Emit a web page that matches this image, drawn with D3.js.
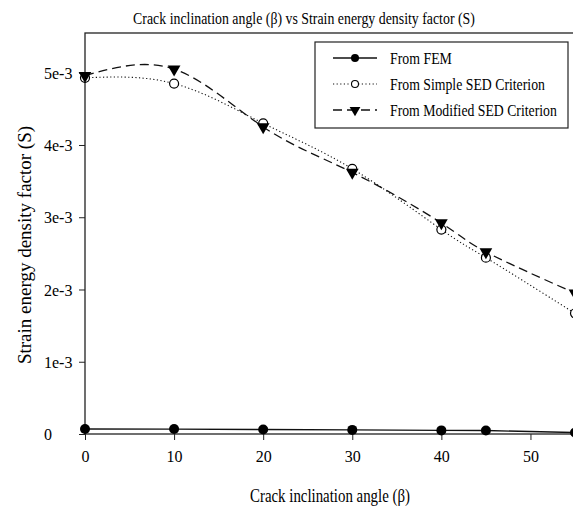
<!DOCTYPE html>
<html>
<head>
<meta charset="utf-8">
<script src="https://cdn.jsdelivr.net/npm/d3@7"></script>
<style>
  html, body { margin: 0; padding: 0; background: #fff; }
  svg { display: block; }
  text { font-family: "Liberation Serif", "Times New Roman", serif; fill: #000; }
</style>
</head>
<body>
<svg id="chart" width="573" height="510"></svg>
<script>
// Crack inclination angle (degrees)
const angles = [0, 10, 20, 30, 40, 45, 55];
// Strain energy density factor S for each method
const femValues      = [0.07e-3, 0.068e-3, 0.062e-3, 0.057e-3, 0.05e-3, 0.048e-3, 0.02e-3];
const simpleSedValues   = [4.93e-3, 4.85e-3, 4.30e-3, 3.67e-3, 2.83e-3, 2.44e-3, 1.67e-3];
const modifiedSedValues = [4.96e-3, 5.05e-3, 4.25e-3, 3.62e-3, 2.92e-3, 2.52e-3, 1.95e-3];

const xTicks = [0, 10, 20, 30, 40, 50];
const yTicks = [0, 1e-3, 2e-3, 3e-3, 4e-3, 5e-3];
const yTickLabels = ["0", "1e-3", "2e-3", "3e-3", "4e-3", "5e-3"];

const seriesNames = ["From FEM", "From Simple SED Criterion", "From Modified SED Criterion"];

const svg = d3.select("#chart");
const plotLeft = 85, plotRight = 575, plotTop = 33, plotBottom = 434;

const x = d3.scaleLinear().domain([0, 55]).range([plotLeft, plotRight]);
const y = d3.scaleLinear().domain([0, 5.55e-3]).range([plotBottom, plotTop]);

// Narrow serif text: place text at (tx, ty), rotated, squeezed horizontally to width w
function narrowText(parent, tx, ty, rot, size, anchor, str, w) {
  const g = parent.append("g").attr("transform", `translate(${tx},${ty}) rotate(${rot})`);
  const t = g.append("text")
    .attr("text-anchor", anchor)
    .style("font-size", size + "px")
    .text(str);
  const natural = t.node().getComputedTextLength();
  const k = Math.min(1, w / natural);
  t.attr("transform", `scale(${k},1)`);
  return t;
}

// Title
narrowText(svg, 304, 24, 0, 17, "middle",
  "Crack inclination angle (β) vs Strain energy density factor (S)", 342);

// Plot frame
svg.append("rect")
  .attr("x", plotLeft).attr("y", plotTop)
  .attr("width", plotRight - plotLeft).attr("height", plotBottom - plotTop)
  .attr("fill", "none").attr("stroke", "#222").attr("stroke-width", 1.3);

// X axis
const xAxis = svg.append("g")
  .attr("transform", `translate(0,${plotBottom})`)
  .call(d3.axisBottom(x).tickValues(xTicks).tickSize(6).tickPadding(11).tickFormat(d3.format("d")));
xAxis.select(".domain").remove();
xAxis.selectAll("line").attr("stroke", "#222");
xAxis.selectAll("text").style("font-size", "16px").style("font-family", "Liberation Serif, serif");

// Y axis
const yAxis = svg.append("g")
  .attr("transform", `translate(${plotLeft},0)`)
  .call(d3.axisLeft(y).tickValues(yTicks).tickSize(6).tickFormat((d, i) => yTickLabels[i]));
yAxis.select(".domain").remove();
yAxis.selectAll("line").attr("stroke", "#222");
yAxis.selectAll("text")
  .attr("text-anchor", "start")
  .attr("x", -41)
  .attr("dy", "0.35em")
  .style("font-size", "16px")
  .style("font-family", "Liberation Serif, serif");

// Axis titles
narrowText(svg, 330, 502, 0, 18, "middle", "Crack inclination angle (β)", 160);
narrowText(svg, 31, 245, -90, 19, "middle", "Strain energy density factor (S)", 254);

const plot = svg.append("g");

function series(values) { return angles.map((a, i) => [a, values[i]]); }

const lineLinear = d3.line().x(d => x(d[0])).y(d => y(d[1]));
const lineSmooth = d3.line().x(d => x(d[0])).y(d => y(d[1])).curve(d3.curveNatural);

// FEM
plot.append("path")
  .datum(series(femValues))
  .attr("d", lineLinear)
  .attr("fill", "none").attr("stroke", "#111").attr("stroke-width", 1.4);

// Simple SED (dotted)
plot.append("path")
  .datum(series(simpleSedValues))
  .attr("d", lineSmooth)
  .attr("fill", "none").attr("stroke", "#111").attr("stroke-width", 1.1)
  .attr("stroke-dasharray", "1.2,2.4");

// Modified SED (dashed)
plot.append("path")
  .datum(series(modifiedSedValues))
  .attr("d", lineSmooth)
  .attr("fill", "none").attr("stroke", "#111").attr("stroke-width", 1.3)
  .attr("stroke-dasharray", "9,5");

const tri = d3.symbol().type(d3.symbolTriangle).size(70);

plot.selectAll(".fem").data(series(femValues)).join("circle")
  .attr("cx", d => x(d[0])).attr("cy", d => y(d[1])).attr("r", 5)
  .attr("fill", "#000");

plot.selectAll(".simple").data(series(simpleSedValues)).join("circle")
  .attr("cx", d => x(d[0])).attr("cy", d => y(d[1])).attr("r", 4.5)
  .attr("fill", "#fff").attr("stroke", "#000").attr("stroke-width", 1.2);

plot.selectAll(".mod").data(series(modifiedSedValues)).join("path")
  .attr("d", tri)
  .attr("transform", d => `translate(${x(d[0])},${y(d[1])}) rotate(180)`)
  .attr("fill", "#000");

// Legend
const lg = svg.append("g");
lg.append("rect")
  .attr("x", 315).attr("y", 42).attr("width", 253).attr("height", 86)
  .attr("fill", "#fff").attr("stroke", "#222").attr("stroke-width", 1.2);

const rows = [58, 84, 110];
const lx1 = 333, lx2 = 377, lmx = 355;
// FEM row
lg.append("line").attr("x1", lx1).attr("x2", lx2).attr("y1", rows[0]).attr("y2", rows[0])
  .attr("stroke", "#111").attr("stroke-width", 1.4);
lg.append("circle").attr("cx", lmx).attr("cy", rows[0]).attr("r", 4).attr("fill", "#000");
// Simple row
lg.append("line").attr("x1", lx1).attr("x2", lx2).attr("y1", rows[1]).attr("y2", rows[1])
  .attr("stroke", "#111").attr("stroke-width", 1.1).attr("stroke-dasharray", "1.2,2.4");
lg.append("circle").attr("cx", lmx).attr("cy", rows[1]).attr("r", 3.5)
  .attr("fill", "#fff").attr("stroke", "#000").attr("stroke-width", 1.1);
// Modified row
lg.append("line").attr("x1", lx1).attr("x2", lx2).attr("y1", rows[2]).attr("y2", rows[2])
  .attr("stroke", "#111").attr("stroke-width", 1.3).attr("stroke-dasharray", "9,5");
lg.append("path").attr("d", d3.symbol().type(d3.symbolTriangle).size(50))
  .attr("transform", `translate(${lmx},${rows[2]}) rotate(180)`).attr("fill", "#000");

const legendWidths = [62, 155, 167];
rows.forEach((ry, i) => {
  narrowText(lg, 390, ry + 5.5, 0, 16, "start", seriesNames[i], legendWidths[i]);
});
</script>
</body>
</html>
